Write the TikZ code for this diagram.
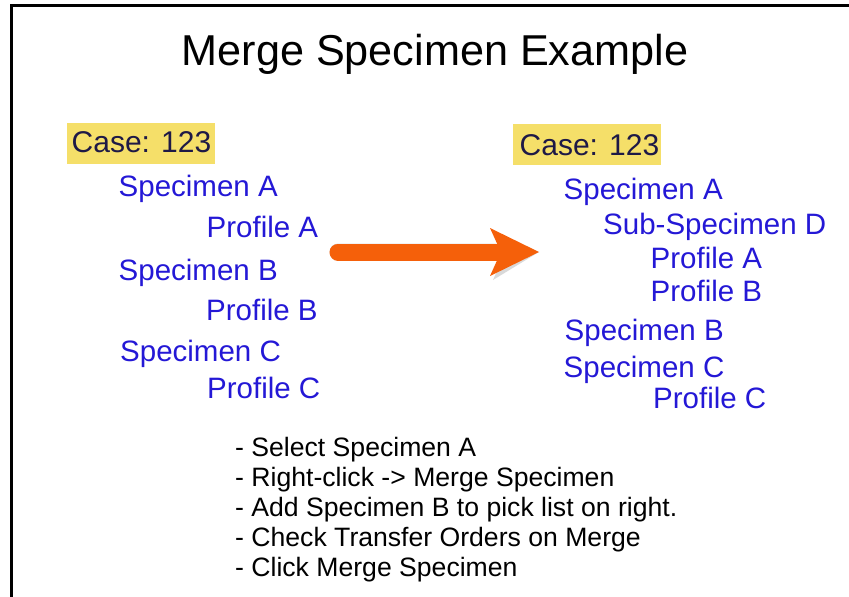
\documentclass[tikz,border=0pt]{standalone}
\usepackage{fontspec}
\setmainfont{Liberation Sans}
\definecolor{specblue}{RGB}{36,24,214}
\definecolor{caseyellow}{RGB}{245,223,105}
\definecolor{casetext}{RGB}{30,25,70}
\definecolor{arroworange}{RGB}{245,96,10}
\tikzset{
  item/.style={anchor=base west, inner sep=0pt, text=specblue, font=\fontsize{29.5}{34}\selectfont},
  casebox/.style={fill=caseyellow, draw=none, minimum width=148pt, minimum height=41pt, inner sep=0pt},
  casetxt/.style={anchor=base west, inner sep=0pt, text=casetext, font=\fontsize{30}{34}\selectfont},
  stepline/.style={anchor=base west, inner sep=0pt, text=black, font=\fontsize{26.6}{30}\selectfont},
  titletxt/.style={anchor=base, inner sep=0pt, font=\fontsize{43.2}{50}\selectfont},
  frameline/.style={line width=3pt, black},
  shaft/.style={line width=17pt, line cap=round}
}
\begin{document}
\begin{tikzpicture}[x=1pt,y=-1pt]
\useasboundingbox (0,0) rectangle (849,597);
% frame
\coordinate (fcorner) at (11,5);
\coordinate (ftop) at (849,5);
\coordinate (fbottom) at (11,597);
\draw[frameline] (ftop) -- (fcorner) -- (fbottom);
% title
\node[titletxt, text=black] (title) at (435,65) {Merge Specimen Example};
% left case
\node[casebox] (caseLbox) at (141,143.5) {};
\node[casetxt] (caseL) at (71.5,152) {Case: 123};
\node[item] (lSpecA) at (118.5,196) {Specimen A};
\node[item] (lProfA) at (206.5,237) {Profile A};
\node[item] (lSpecB) at (118.5,280) {Specimen B};
\node[item] (lProfB) at (206,320) {Profile B};
\node[item] (lSpecC) at (120,361) {Specimen C};
\node[item] (lProfC) at (207,398) {Profile C};
% right case
\node[casebox] (caseRbox) at (587,144.5) {};
\node[casetxt] (caseR) at (519.5,155) {Case: 123};
\node[item] (rSpecA) at (563.5,199) {Specimen A};
\node[item] (rSubD) at (603,234) {Sub-Specimen D};
\node[item] (rProfA) at (650.5,268) {Profile A};
\node[item] (rProfB) at (650.5,301) {Profile B};
\node[item] (rSpecB) at (564.5,340) {Specimen B};
\node[item] (rSpecC) at (563.5,377) {Specimen C};
\node[item] (rProfC) at (653,408) {Profile C};
% arrow
\coordinate (aTail) at (338,252);
\coordinate (aNeck) at (497,252);
\coordinate (aTip) at (539,252);
\begin{scope}[shift={(3,4)}, black, opacity=0.15, transparency group]
\draw[shaft] (aTail) -- (aNeck);
\fill (497,243.5) -- (490,228) -- (aTip) -- (490,276) -- (497,260.5) -- cycle;
\end{scope}
\draw[shaft, arroworange] (aTail) -- (aNeck);
\fill[arroworange] (497,243.5) -- (490,228) -- (aTip) -- (490,276) -- (497,260.5) -- cycle;
% steps
\node[stepline] (s1) at (235,456) {- Select Specimen A};
\node[stepline] (s2) at (235,486.5) {- Right-click -> Merge Specimen};
\node[stepline] (s3) at (235,516.5) {- Add Specimen B to pick list on right.};
\node[stepline] (s4) at (235,546.5) {- Check Transfer Orders on Merge};
\node[stepline] (s5) at (235,576) {- Click Merge Specimen};
\end{tikzpicture}
\end{document}
